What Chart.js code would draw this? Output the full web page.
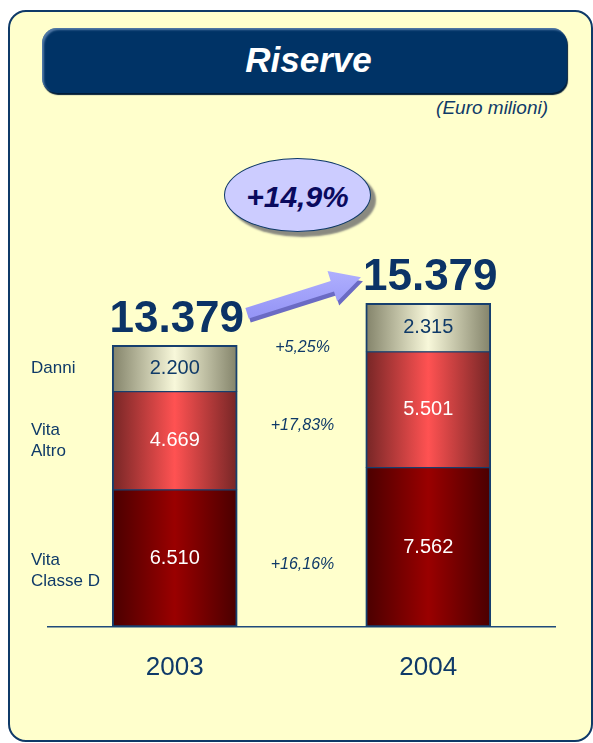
<!DOCTYPE html>
<html>
<head>
<meta charset="utf-8">
<title>Riserve</title>
<script src="https://cdn.jsdelivr.net/npm/chart.js@4"></script>
<style>
  html, body { margin: 0; padding: 0; width: 593px; height: 743px; overflow: hidden; background: #fff; font-family: "Liberation Sans", Arial, sans-serif; }
  #panel { position: absolute; left: 8px; top: 10px; width: 585px; height: 732px; box-sizing: border-box; border: 2px solid #0F3A68; border-radius: 18px; background: #FFFFCC; }
  #banner { position: absolute; left: 42px; top: 28px; width: 525px; height: 65px; border-radius: 15px; background: #003366;
            box-shadow: inset 2px 2px 2px rgba(150,180,220,0.55), 1px 2px 1px #001c38; color: #fff; font-weight: bold; font-style: italic;
            font-size: 35px; line-height: 63px; text-align: center; box-sizing: border-box; padding-left: 8px; }
  #unit { position: absolute; right: 45px; top: 98px; font-size: 19px; line-height: 20px; font-style: italic; color: #0F3A68; }
  #pill { position: absolute; left: 224px; top: 158px; width: 147px; height: 74px; box-sizing: border-box; border-radius: 50%;
          background: #CCCCFF; border: 1.5px solid #0F3A68; box-shadow: 5px 5px 2px #8a8a80; display: flex; align-items: center;
          justify-content: center; padding-top: 4px; font-size: 30px; font-weight: bold; font-style: italic; color: #0A0A5E; }
  #c { position: absolute; left: 0; top: 0; }
</style>
</head>
<body>
<div id="panel"></div>
<div id="banner">Riserve</div>
<div id="unit">(Euro milioni)</div>
<div id="pill"></div>
<canvas id="c" width="593" height="743"></canvas>
<script>
const years = ['2003', '2004'];
const seriesNames = ['Vita\nClasse D', 'Vita\nAltro', 'Danni'];
const vitaClasseD = [6510, 7562];
const vitaAltro = [4669, 5501];
const danni = [2200, 2315];
const totals = [13379, 15379];
const variations = ['+16,16%', '+17,83%', '+5,25%'];
const totalVariation = '+14,9%';

const FONT = '"Liberation Sans", Arial, sans-serif';
const NAVY = '#0F3A68';
const BAR_W = 125;

document.getElementById('pill').textContent = totalVariation;

function fmt(v) {
  return String(v).replace(/\B(?=(\d{3})+(?!\d))/g, '.');
}

// horizontal gradient across each bar (dark edges, light middle)
function grad(edge, mid) {
  return function (ctx) {
    const x = ctx.chart.scales.x;
    if (!x || ctx.dataIndex === undefined) return mid;
    const cx = x.getPixelForValue(ctx.dataIndex);
    if (!isFinite(cx)) return mid;
    const g = ctx.chart.ctx.createLinearGradient(cx - BAR_W / 2, 0, cx + BAR_W / 2, 0);
    g.addColorStop(0, edge);
    g.addColorStop(0.5, mid);
    g.addColorStop(1, edge);
    return g;
  };
}

const overlay = {
  id: 'overlay',
  afterDraw(chart) {
    const c = chart.ctx;
    const metas = chart.data.datasets.map((d, i) => chart.getDatasetMeta(i));
    c.save();
    c.textAlign = 'center';
    c.textBaseline = 'middle';

    // values inside the segments
    metas.forEach((meta, di) => {
      meta.data.forEach((bar, i) => {
        c.font = '20px ' + FONT;
        c.fillStyle = di === 2 ? NAVY : '#ffffff';
        c.fillText(fmt(chart.data.datasets[di].data[i]), bar.x, (bar.y + bar.base) / 2);
      });
    });

    // series names on the left, percentage change in the middle
    const shift = [12, 0, 0];
    metas.forEach((meta, di) => {
      const b0 = meta.data[0], b1 = meta.data[1];
      const m0 = (b0.y + b0.base) / 2, m1 = (b1.y + b1.base) / 2;
      const lines = seriesNames[di].split('\n');
      c.font = '17px ' + FONT;
      c.fillStyle = NAVY;
      c.textAlign = 'left';
      lines.forEach((ln, k) => {
        c.fillText(ln, 31, m0 + shift[di] - (lines.length - 1) * 10.5 + k * 21);
      });
      c.textAlign = 'center';
      c.font = 'italic 16px ' + FONT;
      c.fillText(variations[di], (b0.x + b1.x) / 2 + 1, (m0 + m1) / 2 + shift[di]);
    });

    // totals above the stacks
    const top = metas[metas.length - 1].data;
    c.font = 'bold 44px ' + FONT;
    c.fillStyle = '#0B3366';
    c.textBaseline = 'alphabetic';
    const pos = top.map((bar, i) => {
      const y = bar.y - 13;
      const x = bar.x + 2;
      c.fillText(fmt(totals[i]), x, y);
      return { x: x, y: y - 16, w: c.measureText(fmt(totals[i])).width };
    });

    // arrow from first total to second
    const sx = pos[0].x + pos[0].w / 2 + 3, sy = pos[0].y - 3;
    const ex = pos[1].x - pos[1].w / 2 - 2, ey = pos[1].y + 3;
    const L = Math.hypot(ex - sx, ey - sy);
    const ux = (ex - sx) / L, uy = (ey - sy) / L;
    const nx = -uy, ny = ux;
    const hl = 30, hw = 16, sw = 5.5;
    const bx = ex - ux * hl, by = ey - uy * hl;
    const pts = [
      [sx + nx * sw, sy + ny * sw], [bx + nx * sw, by + ny * sw], [bx + nx * hw, by + ny * hw],
      [ex, ey], [bx - nx * hw, by - ny * hw], [bx - nx * sw, by - ny * sw], [sx - nx * sw, sy - ny * sw]
    ];
    const poly = (dx, dy, fill) => {
      c.beginPath();
      pts.forEach((p, k) => k ? c.lineTo(p[0] + dx, p[1] + dy) : c.moveTo(p[0] + dx, p[1] + dy));
      c.closePath();
      c.fillStyle = fill;
      c.fill();
    };
    poly(2, 4, '#6B6BC4');
    const ag = c.createLinearGradient(0, ey - hw, 0, sy + hw);
    ag.addColorStop(0, '#B4B4FF');
    ag.addColorStop(1, '#8E8EF4');
    poly(0, 0, ag);
    c.restore();
  }
};

new Chart(document.getElementById('c'), {
  type: 'bar',
  data: {
    labels: years,
    datasets: [
      { label: 'Vita Classe D', data: vitaClasseD, backgroundColor: grad('#4A0000', '#9A0000'),
        borderWidth: { left: 2, right: 2, top: 1, bottom: 2 } },
      { label: 'Vita Altro', data: vitaAltro, backgroundColor: grad('#762626', '#FF5252'),
        borderWidth: { left: 2, right: 2, top: 1, bottom: 1 } },
      { label: 'Danni', data: danni, backgroundColor: grad('#83836A', '#F8F8DA'),
        borderWidth: { left: 2, right: 2, top: 2, bottom: 1 } }
    ]
  },
  options: {
    responsive: false,
    devicePixelRatio: 1,
    animation: false,
    layout: { padding: { left: 48, right: 38, top: 206, bottom: 35 } },
    datasets: { bar: { barThickness: BAR_W, borderColor: '#163F6E', borderSkipped: false } },
    plugins: { legend: { display: false }, tooltip: { enabled: false } },
    scales: {
      x: {
        stacked: true,
        grid: { display: false, drawTicks: false },
        border: { display: true, color: '#1F4A7A', width: 1.5 },
        ticks: { color: NAVY, font: { family: FONT, size: 26 }, padding: 25 }
      },
      y: { stacked: true, display: false, min: 0, max: 20000 }
    }
  },
  plugins: [overlay]
});
</script>
</body>
</html>
